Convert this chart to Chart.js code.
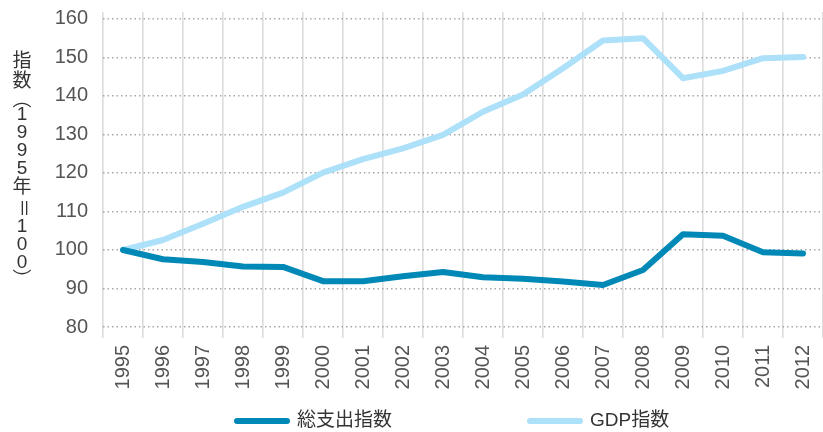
<!DOCTYPE html>
<html>
<head>
<meta charset="utf-8">
<script src="https://cdn.jsdelivr.net/npm/chart.js"></script>
<style>
  html, body { margin: 0; padding: 0; background: #fff; }
  #wrap { width: 823px; height: 432px; }
</style>
</head>
<body>
<div id="wrap"><canvas id="chart" width="823" height="432"></canvas></div>
<script>
// data
const years = ['1995', '1996', '1997', '1998', '1999', '2000', '2001', '2002', '2003',
  '2004', '2005', '2006', '2007', '2008', '2009', '2010', '2011', '2012'];
const totalSpending = [100, 97.6, 96.9, 95.7, 95.6, 91.9, 91.9, 93.2, 94.3,
  92.9, 92.5, 91.8, 90.9, 94.8, 104.1, 103.7, 99.4, 99.1];
const gdpIndex = [100, 102.6, 106.8, 111.2, 114.9, 120.1, 123.6, 126.4, 129.9,
  135.9, 140.4, 147.2, 154.4, 155.0, 144.6, 146.5, 149.8, 150.1];
const yTicks = [80, 90, 100, 110, 120, 130, 140, 150, 160];
const seriesNames = ['総支出指数', 'GDP指数'];
const yTitle = '指数（1995年＝100）';

const FONT = "'Liberation Sans', 'Noto Sans CJK JP', sans-serif";
const CJK = "'Noto Sans CJK JP', sans-serif";
const darkBlue = '#0089b6';
const lightBlue = '#ade0f9';

// vertical forms for brackets when written top to bottom
const verticalForms = { '（': '︵', '）': '︶' };

// vertical y title, each char upright, = turned
const yTitlePlugin = {
  id: 'yTitle',
  afterDraw(chart) {
    const ctx = chart.ctx;
    ctx.save();
    ctx.fillStyle = '#333';
    ctx.textAlign = 'center';
    ctx.textBaseline = 'middle';
    const x = 22;
    let y = 62;
    let prevHalf = 0;
    for (const ch of yTitle) {
      let size = 18;
      if (verticalForms[ch]) size = 14;
      else if (ch.charCodeAt(0) > 0x2e80) size = 20;
      if (prevHalf > 0) y += prevHalf + size / 2;
      if (verticalForms[ch]) {
        ctx.font = '19px ' + CJK;
        ctx.fillText(verticalForms[ch], x, y);
      } else if (ch === '＝') {
        ctx.font = '19px ' + FONT;
        ctx.save();
        ctx.translate(x, y);
        ctx.rotate(Math.PI / 2);
        ctx.fillText(ch, 0, 0);
        ctx.restore();
      } else {
        ctx.font = '19px ' + FONT;
        ctx.fillText(ch, x, y);
      }
      prevHalf = size / 2;
    }
    ctx.restore();
  }
};

// legend at the bottom with a wide gap between the two entries
const legendPlugin = {
  id: 'bottomLegend',
  afterDraw(chart) {
    const ctx = chart.ctx;
    const starts = [234, 527];
    const y = 421;
    ctx.save();
    ctx.font = '19px ' + FONT;
    ctx.textBaseline = 'middle';
    ctx.textAlign = 'left';
    chart.data.datasets.forEach((ds, i) => {
      const x0 = starts[i];
      ctx.strokeStyle = ds.borderColor;
      ctx.lineWidth = 6;
      ctx.lineCap = 'round';
      ctx.beginPath();
      ctx.moveTo(x0 + 3, y);
      ctx.lineTo(x0 + 53, y);
      ctx.stroke();
      ctx.fillStyle = '#333';
      ctx.fillText(ds.label, x0 + 63, y);
    });
    ctx.restore();
  }
};

new Chart(document.getElementById('chart'), {
  type: 'line',
  data: {
    labels: years,
    datasets: [
      {
        label: seriesNames[0],
        data: totalSpending,
        borderColor: darkBlue,
        backgroundColor: darkBlue,
        borderWidth: 6,
        borderCapStyle: 'round',
        borderJoinStyle: 'round',
        pointRadius: 0,
        tension: 0
      },
      {
        label: seriesNames[1],
        data: gdpIndex,
        borderColor: lightBlue,
        backgroundColor: lightBlue,
        borderWidth: 6,
        borderCapStyle: 'round',
        borderJoinStyle: 'round',
        pointRadius: 0,
        tension: 0
      }
    ]
  },
  plugins: [yTitlePlugin, legendPlugin],
  options: {
    responsive: false,
    devicePixelRatio: 1,
    animation: false,
    layout: { padding: { top: 12, right: 0, bottom: 40, left: 0 } },
    plugins: {
      legend: { display: false },
      tooltip: { enabled: false }
    },
    scales: {
      x: {
        offset: true,
        grid: {
          offset: true,
          color: '#dcdcdc',
          lineWidth: 1.6,
          tickLength: 11
        },
        border: { display: false },
        ticks: {
          minRotation: 90,
          maxRotation: 90,
          padding: 7,
          color: '#555',
          font: { family: FONT, size: 20 }
        },
        afterFit(s) {
          s.height = 65;
          s.paddingLeft = 0;
          s.paddingRight = 0;
        }
      },
      y: {
        min: 80,
        max: 161.8,
        afterBuildTicks(s) {
          s.ticks = yTicks.map(v => ({ value: v }));
        },
        grid: {
          color: '#a8a8a8',
          lineWidth: 1.5,
          drawTicks: false
        },
        border: { display: false, dash: [1.5, 3] },
        ticks: {
          padding: 15,
          color: '#555',
          font: { family: FONT, size: 20 }
        },
        afterFit(s) {
          s.width = 103;
          s.paddingTop = 0;
          s.paddingBottom = 0;
        }
      }
    }
  }
});
</script>
</body>
</html>
